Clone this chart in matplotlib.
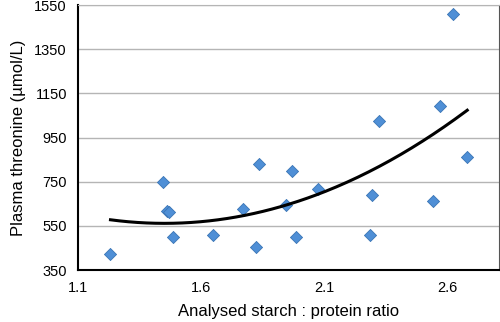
import numpy as np
import matplotlib
matplotlib.use("Agg")
import matplotlib.pyplot as plt

plt.rcParams["font.family"] = ["Liberation Sans", "DejaVu Sans"]

# data
ratio = [1.232, 1.446, 1.460, 1.469, 1.487, 1.650, 1.772, 1.824, 1.836, 1.946,
         1.969, 1.987, 2.073, 2.285, 2.293, 2.324, 2.541, 2.571, 2.623, 2.681]
threonine = [423, 750, 618, 614, 501, 510, 628, 457, 831, 646,
             798, 498, 716, 510, 689, 1026, 663, 1092, 1508, 864]

xticks = [1.1, 1.6, 2.1, 2.6]
yticks = [350, 550, 750, 950, 1150, 1350, 1550]

fig = plt.figure(figsize=(5, 3.22), dpi=100)
ax = fig.add_axes([0.156, 0.161, 0.842, 0.823])

ax.scatter(ratio, threonine, marker="D", s=38, color="#4f8fd6",
           edgecolor="#3a74b5", linewidth=0.6, zorder=3)

# 2nd order polynomial trend line
coef = np.polyfit(ratio, threonine, 2)
xs = np.linspace(min(ratio), max(ratio), 200)
ax.plot(xs, np.polyval(coef, xs), color="black", lw=2.2, zorder=4)

ax.set_xlim(1.1, 2.81)
ax.set_ylim(350, 1550)
ax.set_xticks(xticks)
ax.set_yticks(yticks)
ax.set_xticklabels([f"{v:.1f}" for v in xticks])
ax.tick_params(length=0, labelsize=10.5, pad=8)
ax.grid(axis="y", color="#b5b5b5", lw=1)
ax.set_axisbelow(True)

for s in ["left", "bottom"]:
    ax.spines[s].set_color("black")
    ax.spines[s].set_linewidth(1.5)
ax.spines["top"].set_color("#b5b5b5")
ax.spines["right"].set_color("#555555")

ax.set_xlabel("Analysed starch : protein ratio", fontsize=12, labelpad=6)
ax.set_ylabel("Plasma threonine (µmol/L)", fontsize=12, labelpad=6)

fig.savefig("out.png", dpi=100)
